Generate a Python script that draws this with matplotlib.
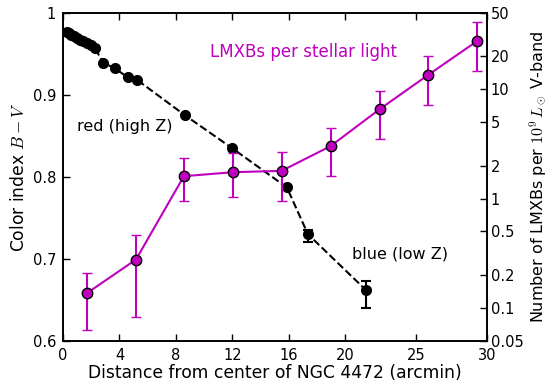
import numpy as np
import matplotlib
matplotlib.use('Agg')
from matplotlib import pyplot as plt

plt.rcParams['mathtext.fontset'] = 'cm'
plt.rcParams['font.size'] = 12

# colour index profile (left axis)
r_color = [0.30, 0.45, 0.60, 0.80, 1.00, 1.20, 1.45, 1.70, 1.95, 2.25,
           2.85, 3.68, 4.60, 5.25, 8.63, 11.96, 15.85, 17.34, 21.44]
bv = [0.977, 0.975, 0.973, 0.971, 0.969, 0.967, 0.965, 0.963, 0.961, 0.957,
      0.939, 0.932, 0.921, 0.918, 0.875, 0.835, 0.787, 0.730, 0.662]
bv_err_lo = [0] * 17 + [0.010, 0.022]
bv_err_hi = [0] * 17 + [0.005, 0.011]

# LMXBs per 1e9 Lsun (right axis)
r_lmxb = [1.68, 5.17, 8.56, 12.03, 15.48, 18.94, 22.41, 25.86, 29.32]
n_lmxb = [0.136, 0.277, 1.60, 1.74, 1.79, 3.01, 6.54, 13.5, 27.5]
n_lo = [0.063, 0.083, 0.94, 1.03, 0.94, 1.59, 3.49, 7.16, 14.5]
n_hi = [0.207, 0.469, 2.34, 2.60, 2.64, 4.43, 9.62, 19.9, 40.7]

xticks = [0, 4, 8, 12, 16, 20, 25, 30]
rticks = [0.05, 0.1, 0.2, 0.5, 1, 2, 5, 10, 20, 50]
rtick_labels = ['0.05', '0.1', '0.2', '0.5', '1', '2', '5', '10', '20', '50']

fig = plt.figure(figsize=(5.5, 3.83), dpi=100)
ax = fig.add_axes([0.1145, 0.110, 0.7705, 0.857])
ax2 = ax.twinx()

n_lmxb = np.array(n_lmxb)
yerr = [n_lmxb - np.array(n_lo), np.array(n_hi) - n_lmxb]
ax2.errorbar(r_lmxb, n_lmxb, yerr=yerr, color='m', lw=1.5, marker='o', ms=7.5,
             mfc='m', mec='k', mew=1, capsize=3.5, capthick=1.5, elinewidth=1.5)
ax2.set_yscale('log')
ax2.set_ylim(0.05, 50)
ax2.set_yticks(rticks)
ax2.set_yticklabels(rtick_labels)
ax2.yaxis.set_minor_locator(matplotlib.ticker.NullLocator())
ax2.tick_params(direction='in', length=5, width=1, labelsize=10.5, pad=3)
ax2.set_ylabel(r'Number of LMXBs per $10^9\,L_\odot$ V-band', fontsize=11.5, labelpad=3)

ax.errorbar(r_color, bv, yerr=[bv_err_lo, bv_err_hi], color='k', ls='--', lw=1.5,
            marker='o', ms=7, capsize=3.5, capthick=1.5, elinewidth=1.5, zorder=3)
ax.set_xlim(0, 30)
ax.set_ylim(0.6, 1.0)
ax.set_xticks(xticks)
ax.set_yticks([0.6, 0.7, 0.8, 0.9, 1.0])
ax.set_yticklabels(['0.6', '0.7', '0.8', '0.9', '1'])
ax.tick_params(direction='in', length=5, width=1, top=True, labelsize=10.5, pad=5)
ax.set_xlabel('Distance from center of NGC 4472 (arcmin)', fontsize=12.3, labelpad=1)
ax.set_ylabel(r'Color index $B-V$', fontsize=12.3, labelpad=3)

ax.text(0.99, 0.861, 'red (high Z)', va='center', ha='left', fontsize=11.5)
ax.text(20.45, 0.706, 'blue (low Z)', va='center', ha='left', fontsize=11.5)
ax.text(17.0, 0.952, 'LMXBs per stellar light', color='m', va='center', ha='center')

for a in (ax, ax2):
    for s in a.spines.values():
        s.set_linewidth(1.2)

fig.savefig('out.png', dpi=100)
